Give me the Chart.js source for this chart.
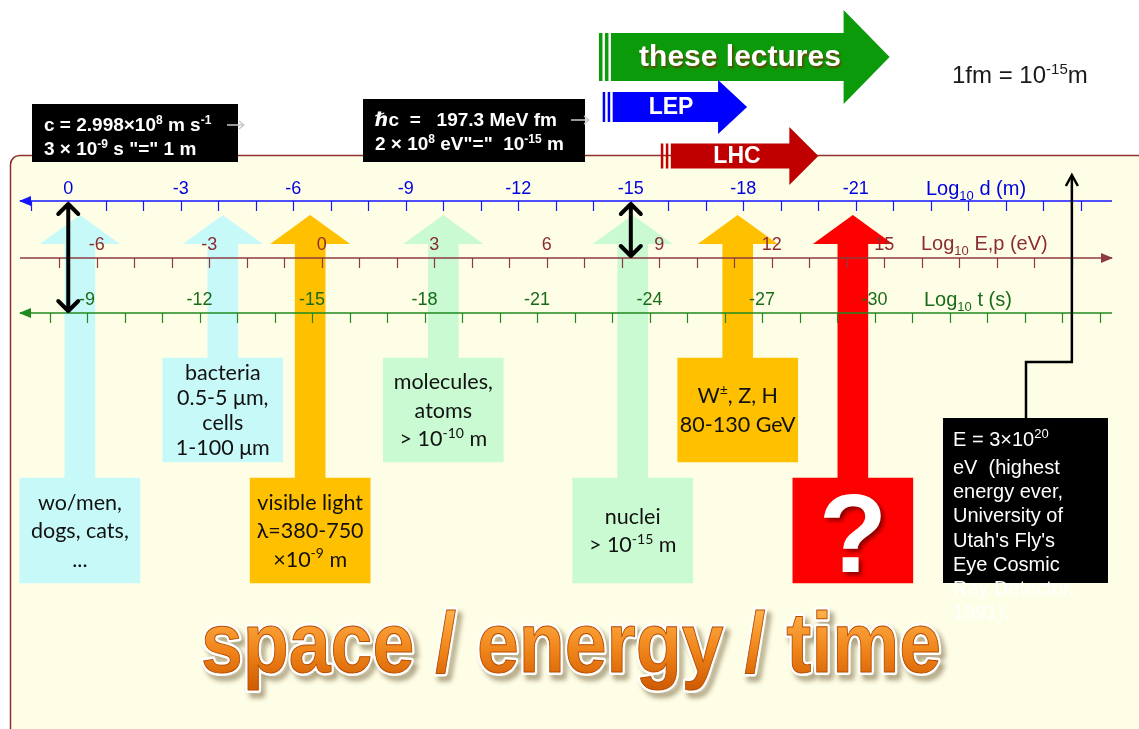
<!DOCTYPE html>
<html>
<head>
<meta charset="utf-8">
<script src="https://cdn.jsdelivr.net/npm/chart.js@4.4.1/dist/chart.umd.min.js"></script>
<style>
html,body{margin:0;padding:0;background:#fff;overflow:hidden}
canvas{display:block}
</style>
</head>
<body>
<canvas id="scaleChart" width="1139" height="729"></canvas>
<script>
// main scale is log10 of distance in metres; energy and time are mapped onto it
const dTicks = [0, -3, -6, -9, -12, -15, -18, -21];
const eTicks = [-6, -3, 0, 3, 6, 9, 12, 15];
const tTicks = [-9, -12, -15, -18, -21, -24, -27, -30];
const E_OFFSET = -6.76;  // log d = E_OFFSET - log E   (hbar c)
const T_OFFSET = 8.5;    // log d = log t + T_OFFSET   (c)

// things placed on the scale (log10 d)
const objNames = ['people', 'bacteria', 'visible light', 'molecules', 'nuclei', 'W Z H', 'unknown'];
const objD = [-0.31, -4.12, -6.45, -10.0, -15.05, -17.85, -20.92];
const objText = [
  ['wo/men,', 'dogs, cats,', '...'],
  ['bacteria', '0.5-5 \u03bcm,', 'cells', '1-100 \u03bcm'],
  ['visible light', '\u03bb=380-750', '\u00d710^{-9} m'],
  ['molecules,', 'atoms', '> 10^{-10} m'],
  ['nuclei', '> 10^{-15} m'],
  ['W^{\u00b1}, Z, H', '80-130 GeV'],
  ['?']
];

// reach of the experiments (log10 d, start and tip)
const rangeNames = ['these lectures', 'LEP', 'LHC'];
const rangeFrom = [-14.15, -14.25, -15.8];
const rangeTo = [-21.9, -18.1, -20.0];

// equivalence arrows and the record cosmic ray (log10 E)
const linkD = [0, -15];
const linkTo = ['t', 'E'];
const cosmicE = 20;
const cosmicText = ['E = 3\u00d710^{20}', 'eV  (highest', 'energy ever,', 'University of', "Utah's Fly's", 'Eye Cosmic', 'Ray Detector,', '1991).'];

// ---- styling / layout
const objColors = ['#c8f9f9', '#c8f9f9', '#ffc000', '#c9fad1', '#c9fad1', '#ffc000', '#ff0000'];
const objRow = [1, 0, 1, 0, 1, 0, 1];
const ROWS = [[358, 462], [478, 583]];
const HEAD_TIP = 215, HEAD_BASE = 244;
const rangeStyle = [
  {color: '#0a9a0a', y: 57, body: 24, head: 47, len: 46, font: 'bold 30px', shadow: true},
  {color: '#0000ff', y: 107, body: 15, head: 27, len: 29, font: 'bold 23px', shadow: false},
  {color: '#c00000', y: 156, body: 12.5, head: 29, len: 29, font: 'bold 23px', shadow: false}
];
const SANS = '"Liberation Sans", Arial, "DejaVu Sans", sans-serif';
const BOXFONT = 'Lato, "Noto Sans", "DejaVu Sans", sans-serif';

function parseRich(text){
  const parts = []; const re = /([\^_])\{([^}]*)\}/g; let last = 0, m;
  while((m = re.exec(text))){
    if(m.index > last) parts.push({t: text.slice(last, m.index), k: ''});
    parts.push({t: m[2], k: m[1]}); last = re.lastIndex;
  }
  if(last < text.length) parts.push({t: text.slice(last), k: ''});
  return parts;
}
function drawRich(c, text, x, y, size, o){
  const parts = parseRich(text);
  const fnt = k => `${o.weight || 'normal'} ${k ? Math.round(size * 0.64) : size}px ${o.family}`;
  let total = 0;
  parts.forEach(p => { c.font = fnt(p.k); p.w = c.measureText(p.t).width; total += p.w; });
  let cx = o.align === 'center' ? x - total / 2 : x;
  c.textAlign = 'left'; c.textBaseline = 'alphabetic'; c.fillStyle = o.color;
  parts.forEach(p => {
    c.font = fnt(p.k);
    const dy = p.k === '^' ? -size * 0.38 : p.k === '_' ? size * 0.25 : 0;
    c.fillText(p.t, cx, y + dy); cx += p.w;
  });
  return total;
}

const axes = [
  {key: 'd', y: 201, color: '#1515ff', text: '#0000e0', toD: v => v, lo: -27, hi: 1, labels: dTicks, labelY: 189, arrow: 'left', title: 'Log_{10} d (m)', titleX: 926, titleY: 188},
  {key: 'E', y: 258, color: '#8e3a40', text: '#8a2c30', toD: v => E_OFFSET - v, lo: -7, hi: 20, labels: eTicks, labelY: 245, arrow: 'right', title: 'Log_{10} E,p (eV)', titleX: 921, titleY: 243},
  {key: 't', y: 313, color: '#1f8a1f', text: '#186c18', toD: v => v + T_OFFSET, lo: -36, hi: -8, labels: tTicks, labelY: 300, arrow: 'left', title: 'Log_{10} t (s)', titleX: 924, titleY: 299}
];

function drawAxis(c, xs, a){
  c.strokeStyle = a.color; c.fillStyle = a.color; c.lineWidth = 1.4;
  c.beginPath(); c.moveTo(20, a.y); c.lineTo(1112, a.y); c.stroke();
  c.beginPath();
  if(a.arrow === 'left'){ c.moveTo(19, a.y); c.lineTo(31, a.y - 5); c.lineTo(31, a.y + 5); }
  else { c.moveTo(1113, a.y); c.lineTo(1101, a.y - 5); c.lineTo(1101, a.y + 5); }
  c.fill();
  c.lineWidth = 1.2;
  for(let v = a.lo; v <= a.hi; v++){
    const x = Math.round(xs.getPixelForValue(a.toD(v))) + 0.5;
    if(x < 24 || x > 1106) continue;
    c.beginPath(); c.moveTo(x, a.y); c.lineTo(x, a.y + 10); c.stroke();
  }
  c.font = `18px ${SANS}`; c.fillStyle = a.text; c.textAlign = 'center'; c.textBaseline = 'middle';
  a.labels.forEach(v => {
    c.fillText(String(v), xs.getPixelForValue(a.toD(v)), a.labelY);
  });
  drawRich(c, a.title, a.titleX, a.titleY + 7, 20, {family: SANS, color: a.text});
}

function chevronArrow(c, x, y0, y1, s){
  c.beginPath(); c.moveTo(x, y0); c.lineTo(x, y1);
  c.moveTo(x - s, y0 + s); c.lineTo(x, y0); c.lineTo(x + s, y0 + s);
  c.moveTo(x - s, y1 - s); c.lineTo(x, y1); c.lineTo(x + s, y1 - s);
  c.stroke();
}

const artPlugin = {
  id: 'scaleArt',
  beforeDatasetsDraw(chart){
    const c = chart.ctx, xs = chart.scales.x;
    c.save();
    c.fillStyle = '#ffffff'; c.fillRect(0, 0, chart.width, chart.height);
    // panel
    c.beginPath(); c.roundRect(10.5, 155.5, 1160, 620, 9);
    c.fillStyle = '#fefee6'; c.fill();
    c.strokeStyle = '#8e3030'; c.lineWidth = 1.5; c.stroke();
    // arrow heads
    objD.forEach((d, i) => {
      const x = xs.getPixelForValue(d);
      c.fillStyle = objColors[i];
      c.beginPath(); c.moveTo(x - 40, HEAD_BASE); c.lineTo(x, HEAD_TIP); c.lineTo(x + 40, HEAD_BASE); c.closePath(); c.fill();
    });
    c.restore();
  },
  afterDatasetsDraw(chart){
    const c = chart.ctx, xs = chart.scales.x;
    c.save();
    axes.forEach(a => drawAxis(c, xs, a));

    // equivalence double arrows
    c.strokeStyle = '#000'; c.lineWidth = 4; c.lineCap = 'round'; c.lineJoin = 'round';
    linkD.forEach((d, i) => {
      const x = xs.getPixelForValue(d);
      const target = axes.find(a => a.key === linkTo[i]);
      chevronArrow(c, x, 204, target.y - 2, 10);
    });

    // cosmic ray pointer
    const xc = xs.getPixelForValue(E_OFFSET - cosmicE);
    c.lineWidth = 2.5; c.lineCap = 'butt'; c.lineJoin = 'miter';
    c.beginPath(); c.moveTo(1026, 418); c.lineTo(1026, 362); c.lineTo(xc, 362); c.lineTo(xc, 176); c.stroke();
    c.beginPath(); c.moveTo(xc - 6, 186); c.lineTo(xc, 175); c.lineTo(xc + 6, 186); c.stroke();
    c.fillStyle = '#000'; c.fillRect(943, 418, 165, 165);
    cosmicText.forEach((t, i) => drawRich(c, t, 953, 446 + (i === 0 ? 0 : 28 + (i - 1) * 24.2), 20, {family: SANS, color: '#ffffff'}));

    // box texts
    objD.forEach((d, i) => {
      const x = xs.getPixelForValue(d);
      const [top, bot] = ROWS[objRow[i]];
      const lines = objText[i];
      if(lines[0] === '?'){
        c.save();
        c.font = `bold 112px ${SANS}`; c.textAlign = 'center'; c.textBaseline = 'alphabetic';
        c.shadowColor = 'rgba(90,0,0,0.7)'; c.shadowOffsetX = 3; c.shadowOffsetY = 3; c.shadowBlur = 4;
        c.fillStyle = '#ffffff'; c.fillText('?', x, 572);
        c.restore();
        return;
      }
      const lh = lines.length > 3 ? 25 : 28.5;
      const mid = (top + bot) / 2;
      lines.forEach((t, j) => {
        const yc = mid + (j - (lines.length - 1) / 2) * lh;
        drawRich(c, t, x, yc + 7.5, 21.5, {family: BOXFONT, color: '#111', align: 'center'});
      });
    });

    // formula boxes
    c.fillStyle = '#000';
    c.fillRect(32, 104, 206, 58);
    c.fillRect(363, 99, 222, 63);
    const bold = {family: SANS, weight: 'bold', color: '#ffffff'};
    drawRich(c, 'c = 2.998\u00d710^{8} m s^{-1}', 44, 131, 19, bold);
    drawRich(c, '3 \u00d7 10^{-9} s "=" 1 m', 44, 155, 19, bold);
    drawRich(c, '\u210fc  =   197.3 MeV fm', 375, 126, 19, bold);
    drawRich(c, '2 \u00d7 10^{8} eV"="  10^{-15} m', 375, 150, 19, bold);
    c.strokeStyle = '#c8c8c8'; c.lineWidth = 1.3; c.lineCap = 'butt';
    [[227, 244, 125], [571, 589, 120]].forEach(([a, b, y]) => {
      c.beginPath(); c.moveTo(a, y); c.lineTo(b, y); c.moveTo(b - 5, y - 4); c.lineTo(b, y); c.lineTo(b - 5, y + 4); c.stroke();
    });

    // experiment reach arrows
    rangeNames.forEach((name, i) => {
      const s = rangeStyle[i];
      const x0 = xs.getPixelForValue(rangeFrom[i]);
      const x1 = xs.getPixelForValue(rangeTo[i]);
      const w = i === 0 ? 3.5 : 2.5;
      c.fillStyle = s.color;
      c.fillRect(x0, s.y - s.body, w, 2 * s.body);
      c.fillRect(x0 + w + 2.5, s.y - s.body, w, 2 * s.body);
      const xb = x0 + 2 * w + 5;
      c.beginPath();
      c.moveTo(xb, s.y - s.body); c.lineTo(x1 - s.len, s.y - s.body); c.lineTo(x1 - s.len, s.y - s.head);
      c.lineTo(x1, s.y); c.lineTo(x1 - s.len, s.y + s.head); c.lineTo(x1 - s.len, s.y + s.body); c.lineTo(xb, s.y + s.body);
      c.closePath(); c.fill();
      c.save();
      c.font = `${s.font} ${SANS}`; c.textAlign = 'center'; c.textBaseline = 'middle';
      if(s.shadow){ c.shadowColor = 'rgba(110,60,0,0.9)'; c.shadowOffsetX = 1.5; c.shadowOffsetY = 1.5; c.shadowBlur = 2; }
      c.fillStyle = '#ffffff';
      const tx = i === 0 ? 740 : i === 1 ? 671 : 737;
      c.fillText(name, tx, s.y + 1);
      c.restore();
    });

    drawRich(c, '1fm = 10^{-15}m', 952, 83, 24, {family: SANS, color: '#1a1a1a'});

    // title
    const title = 'space / energy / time';
    c.save();
    c.font = `bold 86px ${SANS}`;
    const tw = c.measureText(title).width;
    c.translate(571, 672); c.scale(740 / tw, 1);
    c.textAlign = 'center'; c.textBaseline = 'alphabetic';
    const g = c.createLinearGradient(0, -62, 0, 18);
    g.addColorStop(0, '#ffb04a'); g.addColorStop(0.5, '#f0851a'); g.addColorStop(1, '#cf5a00');
    c.lineJoin = 'round';
    c.shadowColor = 'rgba(70,45,0,0.45)'; c.shadowOffsetX = 4; c.shadowOffsetY = 5; c.shadowBlur = 5;
    c.strokeStyle = '#ffffff'; c.lineWidth = 6; c.strokeText(title, 0, 0);
    c.shadowColor = 'transparent';
    c.fillStyle = g; c.fillText(title, 0, 0);
    c.strokeStyle = '#b54d00'; c.lineWidth = 1; c.strokeText(title, 0, 0);
    c.restore();

    c.restore();
  }
};

const shaftData = objD.map((d, i) => ({x: d, y: [HEAD_BASE - 1, ROWS[objRow[i]][0] + 1]}));
const boxData = objD.map((d, i) => ({x: d, y: ROWS[objRow[i]]}));

new Chart(document.getElementById('scaleChart'), {
  type: 'bar',
  data: {
    labels: objNames,
    datasets: [
      {label: 'arrows', data: shaftData, backgroundColor: objColors, barThickness: 30, grouped: false, borderWidth: 0},
      {label: 'boxes', data: boxData, backgroundColor: objColors, barThickness: 120, grouped: false, borderWidth: 0}
    ]
  },
  options: {
    responsive: false,
    animation: false,
    devicePixelRatio: 1,
    layout: {padding: 0},
    plugins: {legend: {display: false}, tooltip: {enabled: false}},
    scales: {
      x: {type: 'linear', reverse: true, min: -28.55, max: 1.82, offset: false, display: false},
      y: {type: 'linear', reverse: true, min: 0, max: 729, display: false}
    }
  },
  plugins: [artPlugin]
});
</script>
</body>
</html>
